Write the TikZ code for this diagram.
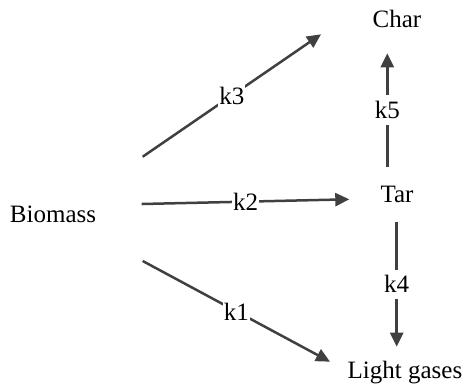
\documentclass[tikz,border=0pt]{standalone}
\usepackage{fontspec}
\setmainfont{Liberation Serif}
\usetikzlibrary{arrows.meta}
\definecolor{arrowgray}{RGB}{64,64,64}
\tikzset{
  species/.style = {inner sep=0pt, anchor=base, text=black},
  rate/.style = {midway, fill=white, inner xsep=1pt, inner ysep=6pt, text=black},
  rxn/.style = {draw=arrowgray, line width=2.5pt, -{Triangle[length=14pt,width=13pt]}}
}

\begin{document}
\begin{tikzpicture}[x=1pt, y=-1pt, font=\fontsize{25}{30}\selectfont]
	\useasboundingbox (0,0) rectangle (463,384);
	% species
	\node [species] (bio) at (53,222) {Biomass};
	\node [species] (char) at (397,27) {Char};
	\node [species] (tar) at (397,202) {Tar};
	\node [species] (gas) at (405,378) {Light gases};
	% arrow ends
	\coordinate (bio3) at (142.7,156.7);
	\coordinate (bio2) at (141.7,204);
	\coordinate (bio1) at (142.7,261);
	\coordinate (char3) at (321,34.3);
	\coordinate (tar2) at (349.3,199.3);
	\coordinate (gas1) at (330,361.7);
	\coordinate (tar5) at (387.3,166.7);
	\coordinate (char5) at (387.3,53.3);
	\coordinate (tar4) at (396.7,221.7);
	\coordinate (gas4) at (396.7,346.7);
	% reactions
	\draw [rxn] (bio3) -- (char3) node [rate] {k3};
	\draw [rxn] (bio2) -- (tar2) node [rate] {k2};
	\draw [rxn] (bio1) -- (gas1) node [rate] {k1};
	\draw [rxn] (tar5) -- (char5) node [rate] {k5};
	\draw [rxn] (tar4) -- (gas4) node [rate] {k4};
\end{tikzpicture}
\end{document}
